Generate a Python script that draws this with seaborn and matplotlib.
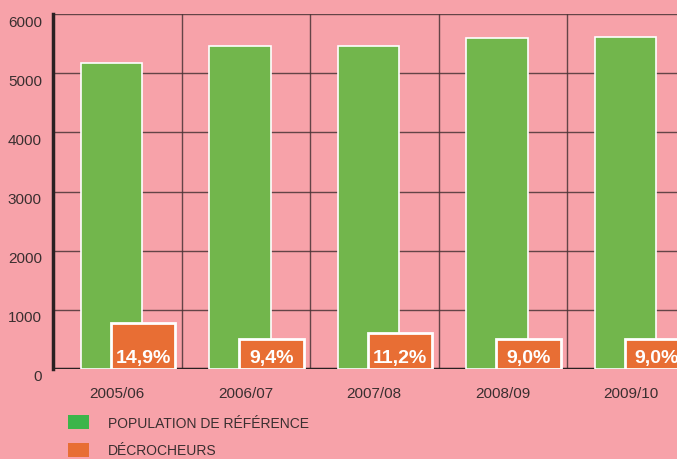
import numpy as np
import pandas as pd
import matplotlib
matplotlib.use("Agg")
import matplotlib.pyplot as plt
import matplotlib.patches as patches
from matplotlib.transforms import ScaledTranslation
import seaborn as sns

# données
annees = ["2005/06", "2006/07", "2007/08", "2008/09", "2009/10"]
population = [5170, 5460, 5460, 5590, 5610]
decrocheurs = [770, 515, 615, 505, 505]
taux = ["14,9%", "9,4%", "11,2%", "9,0%", "9,0%"]
legende = ["POPULATION DE RÉFÉRENCE", "DÉCROCHEURS"]

fond = "#F7A2A9"
vert = "#72B64C"
vert_leg = "#3CB54A"
orange = "#E86E34"
grille = "#4a3436"
texte = "#3a2f30"

sns.set_style("white")
plt.rcParams['font.family'] = ['Liberation Sans', 'DejaVu Sans']

fig = plt.figure(figsize=(6.77, 4.60), dpi=100, facecolor=fond)
ax = fig.add_axes([53/677, 90/460, 642.5/677, 355/460])
ax.set_facecolor(fond)

df = pd.DataFrame({"annee": annees, "population": population, "decrocheurs": decrocheurs})

# barres vertes (population de référence)
sns.barplot(data=df, x="annee", y="population", color=vert, saturation=1,
            width=0.48, edgecolor="white", linewidth=1.2, ax=ax, zorder=3)
n_vert = len(ax.patches)
for p in ax.patches:
    p.set_x(p.get_x() - 0.045)

# barres oranges (décrocheurs), décalées et superposées
sns.barplot(data=df, x="annee", y="decrocheurs", color=orange, saturation=1,
            width=0.5, edgecolor="white", linewidth=2, ax=ax, zorder=4)
for p in ax.patches[n_vert:]:
    p.set_x(p.get_x() + 0.2)

for i, t in enumerate(taux):
    ax.annotate(t, xy=(i + 0.2, 0), xytext=(0, 8), textcoords="offset points",
                ha="center", va="center", color="white", fontsize=14,
                fontweight="bold", zorder=5, annotation_clip=False)

ax.set_xlim(-0.5, 4.5)
ax.set_ylim(0, 6000)
ax.set_yticks(np.arange(0, 6001, 1000))
ax.set_xticks(np.arange(0.5, 4.5, 1), minor=True)
ax.grid(True, which="major", axis="y", color=grille, lw=1.0, alpha=0.85, zorder=0)
ax.grid(True, which="minor", axis="x", color=grille, lw=1.0, alpha=0.85, zorder=0)
ax.set_axisbelow(True)
ax.axhline(0, color="#2a2022", lw=2.5, zorder=2)

for s in ["top", "right", "bottom"]:
    ax.spines[s].set_visible(False)
ax.spines["left"].set_color("#2a2022")
ax.spines["left"].set_linewidth(2.5)

ax.set_xlabel("")
ax.set_ylabel("")
ax.tick_params(axis="y", length=0, pad=8, labelsize=11, labelcolor=texte)
ax.tick_params(axis="x", which="both", length=0, pad=12, labelsize=11, labelcolor=texte)
for lab in ax.get_yticklabels():
    lab.set_transform(lab.get_transform() + ScaledTranslation(0, -6/100, fig.dpi_scale_trans))

poignees = [patches.Patch(facecolor=vert_leg, edgecolor="none", label=legende[0]),
            patches.Patch(facecolor=orange, edgecolor="none", label=legende[1])]
leg = ax.legend(handles=poignees, loc="upper left", bbox_to_anchor=(68/677, 1 - 416/460),
                bbox_transform=fig.transFigure, frameon=False, fontsize=10,
                handlelength=1.5, handleheight=1.15, handletextpad=1.4,
                labelspacing=0.95, borderpad=0, borderaxespad=0)
for t in leg.get_texts():
    t.set_color(texte)

fig.savefig("out.png", dpi=100, facecolor=fond)
